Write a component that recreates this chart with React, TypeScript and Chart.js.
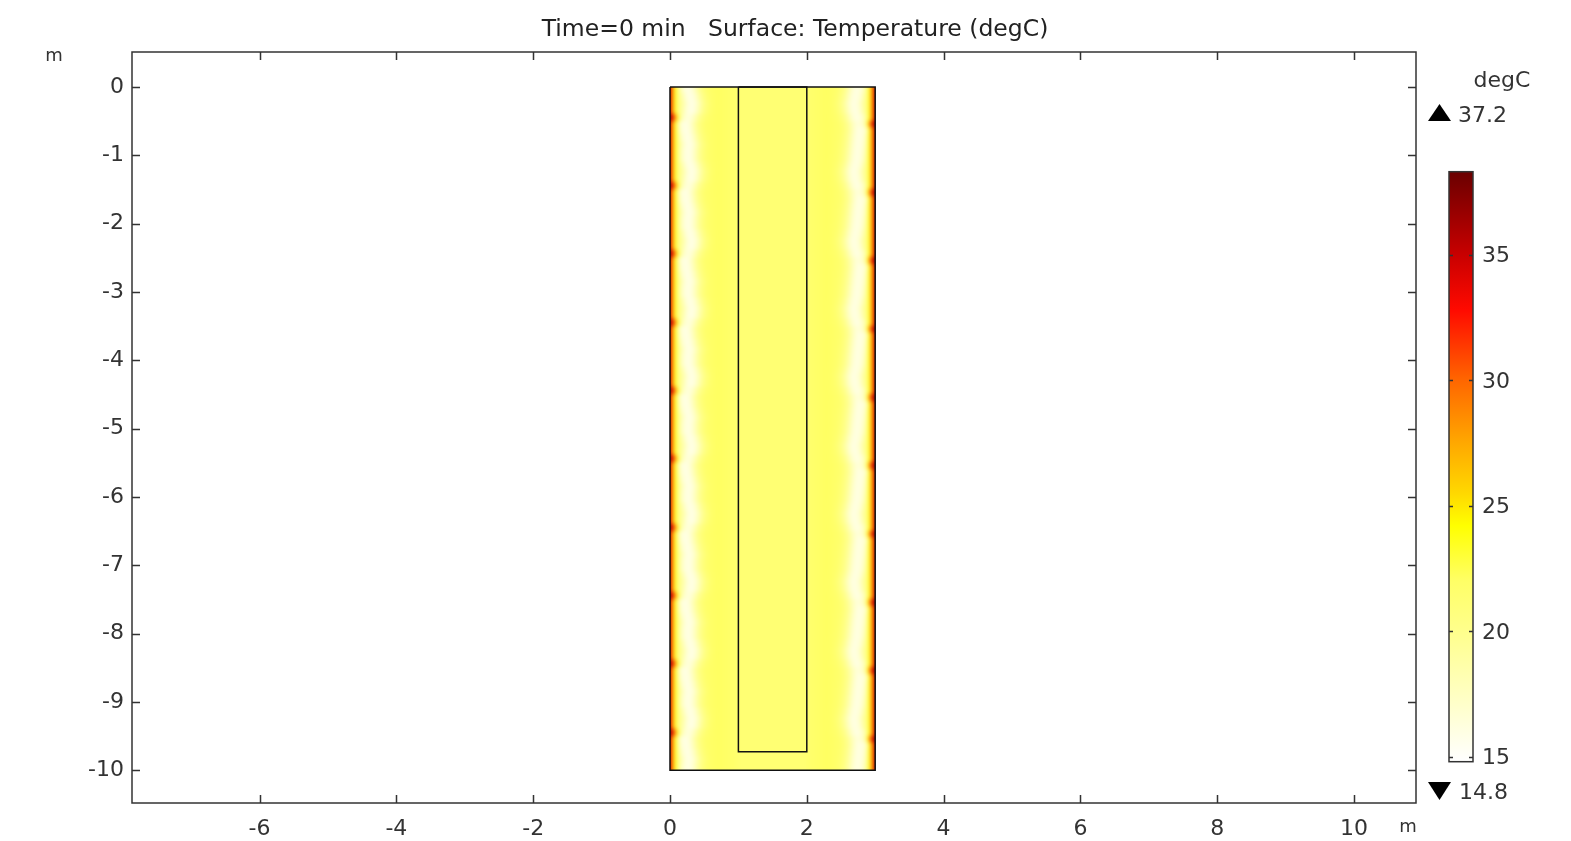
import React, { useEffect, useRef } from "react";
import { Chart, registerables } from "chart.js";
Chart.register(...registerables);

// ---------- data ----------
const titleText = "Time=0 min   Surface: Temperature (degC)";
const axisUnit = "m";
const colorUnit = "degC";
const xTicks = [-6, -4, -2, 0, 2, 4, 6, 8, 10];
const yTicks = [0, -1, -2, -3, -4, -5, -6, -7, -8, -9, -10];
const xRange = [-7.865, 10.906];
const yRange = [-10.479, 0.512];

// geometry outlines (m)
const outerX = [0, 3, 3, 0, 0];
const outerY = [0, 0, -10, -10, 0];
const innerX = [1, 2, 2, 1, 1];
const innerY = [0, 0, -9.73, -9.73, 0];

// temperature field (degC) read across the section
const leftX = [0, 0.02, 0.04, 0.06, 0.085, 0.11, 0.15, 0.2, 0.26, 0.32, 0.38, 0.45, 0.55, 0.7, 1.0];
const leftT = [35, 31, 27.5, 24.8, 22.8, 21, 18.5, 16.6, 15.9, 16.4, 18.2, 20.3, 21.8, 22.1, 21.6];
const leftNotchT = [37, 35.5, 33, 30, 27, 23, 19.5, 17.2, 16.3, 16.8, 18.6, 20.5, 21.8, 22.1, 21.6];
const rightD = [0, 0.02, 0.04, 0.06, 0.085, 0.11, 0.15, 0.2, 0.26, 0.32, 0.38, 0.45, 0.55, 0.7, 1.0];
const rightT = [36, 32, 28.5, 25.5, 23.2, 21.2, 18.5, 16.6, 16, 16.4, 18.2, 20.2, 21.7, 22.1, 21.6];
const rightNotchT = [37.5, 36, 33.5, 30.5, 27.5, 23.5, 19.6, 17.2, 16.4, 16.9, 18.7, 20.5, 21.8, 22.1, 21.6];
const innerT = 21.3;
const rowStep = 0.1; // m
const leftShift = [0.0, 0.03, 0.05, 0.04, 0.0, -0.04, -0.03, -0.01, 0.01, 0.0];
const rightShift = [0.0, -0.02, -0.04, -0.03, 0.0, 0.02, 0.04, 0.03, 0.02, 0.01];
const leftNotchRows = [0, 0, 0, 0, 1, 0, 0, 0, 0, 0];
const rightNotchRows = [0, 0, 0, 0, 0, 1, 0, 0, 0, 0];

// colour scale
const cbarMin = 14.8;
const cbarMax = 38.3;
const cbarTicks = [15, 20, 25, 30, 35];
const dataMaxLabel = "37.2";
const dataMinLabel = "14.8";
const cmapT = [14.8, 17, 20, 22, 24.2, 25.5, 27.5, 30, 32.8, 35, 38.3];
const cmapC = ["#ffffff", "#ffffcc", "#ffff8c", "#ffff66", "#ffff00", "#ffd800", "#ffa800", "#ff6600", "#ff0a00", "#c80000", "#6a0000"];

// ---------- helpers ----------
const FONT = '"DejaVu Sans", "Liberation Sans", sans-serif';
function hex(c: string) {
  return [parseInt(c.slice(1, 3), 16), parseInt(c.slice(3, 5), 16), parseInt(c.slice(5, 7), 16)];
}
function colorOf(t: number) {
  if (t <= cmapT[0]) return cmapC[0];
  for (let i = 1; i < cmapT.length; i++) {
    if (t <= cmapT[i]) {
      const f = (t - cmapT[i - 1]) / (cmapT[i] - cmapT[i - 1]);
      const a = hex(cmapC[i - 1]);
      const b = hex(cmapC[i]);
      const r = a.map((v, j) => Math.round(v + (b[j] - v) * f));
      return `rgb(${r[0]},${r[1]},${r[2]})`;
    }
  }
  return cmapC[cmapC.length - 1];
}
const clamp01 = (v: number) => Math.max(0, Math.min(1, v));

const fieldPlugin = {
  id: "field",
  beforeDatasetsDraw(chart: any) {
    const { ctx } = chart;
    const xs = chart.scales.x;
    const ys = chart.scales.y;
    const X = (v: number) => xs.getPixelForValue(v);
    const Y = (v: number) => ys.getPixelForValue(v);
    const x0 = X(0);
    const x3 = X(3);
    const W = x3 - x0;
    const off = document.createElement("canvas");
    off.width = chart.canvas.width;
    off.height = chart.canvas.height;
    const oc = off.getContext("2d") as CanvasRenderingContext2D;
    const nRows = Math.round(10 / rowStep);
    for (let k = 0; k < nRows; k++) {
      const p = k % leftShift.length;
      const g = oc.createLinearGradient(x0, 0, x3, 0);
      const lT = leftNotchRows[p] ? leftNotchT : leftT;
      leftX.forEach((d, i) => {
        const s = i >= 6 && i <= 12 ? leftShift[p] : 0;
        g.addColorStop(clamp01((X(d + s) - x0) / W), colorOf(lT[i]));
      });
      g.addColorStop(clamp01((X(1) - x0) / W), colorOf(innerT));
      g.addColorStop(clamp01((X(2) - x0) / W), colorOf(innerT));
      const rT = rightNotchRows[p] ? rightNotchT : rightT;
      for (let i = rightD.length - 1; i >= 0; i--) {
        const s = i >= 6 && i <= 12 ? rightShift[p] : 0;
        g.addColorStop(clamp01((X(3 - rightD[i] + s) - x0) / W), colorOf(rT[i]));
      }
      oc.fillStyle = g;
      const top = Math.floor(Y(-k * rowStep + (k === 0 ? 0.3 : 0)));
      const bot = Math.ceil(Y(-(k + 1) * rowStep - (k === nRows - 1 ? 0.3 : 0)));
      oc.fillRect(X(-0.2), top, X(3.2) - X(-0.2), bot - top);
    }
    ctx.save();
    ctx.beginPath();
    ctx.rect(x0, Y(0), W, Y(-10) - Y(0));
    ctx.clip();
    ctx.filter = "blur(2px)";
    ctx.drawImage(off, 0, 0);
    ctx.restore();
  },
};

const decorPlugin = {
  id: "decor",
  afterDraw(chart: any) {
    const { ctx, chartArea: a } = chart;
    const xs = chart.scales.x;
    const ys = chart.scales.y;
    ctx.save();
    // frame
    ctx.strokeStyle = "#333";
    ctx.lineWidth = 1.5;
    ctx.strokeRect(a.left, a.top, a.right - a.left, a.bottom - a.top);
    // inward ticks
    ctx.beginPath();
    xTicks.forEach((v) => {
      const px = Math.round(xs.getPixelForValue(v)) + 0.5;
      ctx.moveTo(px, a.bottom);
      ctx.lineTo(px, a.bottom - 8);
      ctx.moveTo(px, a.top);
      ctx.lineTo(px, a.top + 8);
    });
    yTicks.forEach((v) => {
      const py = Math.round(ys.getPixelForValue(v)) + 0.5;
      ctx.moveTo(a.left, py);
      ctx.lineTo(a.left + 8, py);
      ctx.moveTo(a.right, py);
      ctx.lineTo(a.right - 8, py);
    });
    ctx.stroke();

    // title
    ctx.fillStyle = "#222";
    ctx.font = `23.5px ${FONT}`;
    ctx.textAlign = "center";
    ctx.textBaseline = "middle";
    ctx.fillText(titleText, 795, 30);

    // unit labels
    ctx.fillStyle = "#333";
    ctx.font = `18px ${FONT}`;
    ctx.fillText(axisUnit, 54, 56);
    ctx.fillText(axisUnit, 1408, 827);

    // colour bar
    const cbL = 1449, cbR = 1473, cbT = 171.7, cbB = 761.7;
    const vy = (v: number) => cbB - ((v - cbarMin) / (cbarMax - cbarMin)) * (cbB - cbT);
    const g = ctx.createLinearGradient(0, cbB, 0, cbT);
    cmapT.forEach((t, i) => g.addColorStop(clamp01((t - cbarMin) / (cbarMax - cbarMin)), cmapC[i]));
    ctx.fillStyle = g;
    ctx.fillRect(cbL, cbT, cbR - cbL, cbB - cbT);
    ctx.strokeStyle = "#333";
    ctx.lineWidth = 1.5;
    ctx.strokeRect(cbL, cbT, cbR - cbL, cbB - cbT);
    ctx.beginPath();
    cbarTicks.forEach((v) => {
      const py = Math.round(vy(v)) + 0.5;
      ctx.moveTo(cbL, py);
      ctx.lineTo(cbL + 4, py);
      ctx.moveTo(cbR, py);
      ctx.lineTo(cbR - 4, py);
    });
    ctx.stroke();
    ctx.fillStyle = "#333";
    ctx.font = `22px ${FONT}`;
    ctx.textAlign = "left";
    cbarTicks.forEach((v) => ctx.fillText(String(v), 1482, vy(v) + 2));
    ctx.textAlign = "center";
    ctx.fillText(colorUnit, 1502, 81);
    ctx.textAlign = "left";
    ctx.fillText(dataMaxLabel, 1458, 116);
    ctx.fillText(dataMinLabel, 1459, 793);
    // triangles
    ctx.fillStyle = "#000";
    ctx.beginPath();
    ctx.moveTo(1428, 121);
    ctx.lineTo(1451, 121);
    ctx.lineTo(1439.5, 104);
    ctx.closePath();
    ctx.fill();
    ctx.beginPath();
    ctx.moveTo(1428, 782);
    ctx.lineTo(1451, 782);
    ctx.lineTo(1439.5, 800);
    ctx.closePath();
    ctx.fill();
    ctx.restore();
  },
};

export default function App() {
  const ref = useRef<HTMLCanvasElement | null>(null);
  useEffect(() => {
    if (!ref.current) return;
    const tickFont = { family: FONT, size: 22 };
    const chart = new Chart(ref.current, {
      type: "scatter",
      data: {
        datasets: [
          {
            data: outerX.map((v, i) => ({ x: v, y: outerY[i] })),
            showLine: true,
            borderColor: "#111",
            borderWidth: 1.5,
            pointRadius: 0,
            fill: false,
          },
          {
            data: innerX.map((v, i) => ({ x: v, y: innerY[i] })),
            showLine: true,
            borderColor: "#111",
            borderWidth: 1.5,
            pointRadius: 0,
            fill: false,
          },
        ],
      },
      options: {
        responsive: false,
        animation: false,
        events: [],
        layout: { padding: { top: 52, right: 155, left: 0, bottom: 0 } },
        plugins: { legend: { display: false }, tooltip: { enabled: false }, title: { display: false } },
        scales: {
          x: {
            type: "linear",
            min: xRange[0],
            max: xRange[1],
            afterBuildTicks: (s: any) => {
              s.ticks = xTicks.map((v) => ({ value: v }));
            },
            afterFit: (s: any) => {
              s.height = 38;
            },
            grid: { display: false, drawTicks: false },
            border: { display: false },
            ticks: {
              font: tickFont,
              color: "#333",
              padding: 13,
              autoSkip: false,
              maxRotation: 0,
              callback: (v: any) => String(v),
            },
          },
          y: {
            type: "linear",
            min: yRange[0],
            max: yRange[1],
            afterBuildTicks: (s: any) => {
              s.ticks = yTicks.map((v) => ({ value: v }));
            },
            afterFit: (s: any) => {
              s.width = 132;
            },
            grid: { display: false, drawTicks: false },
            border: { display: false },
            ticks: {
              font: tickFont,
              color: "#333",
              padding: 8,
              autoSkip: false,
              callback: (v: any) => String(v),
            },
          },
        },
      },
      plugins: [fieldPlugin, decorPlugin],
    } as any);
    return () => chart.destroy();
  }, []);
  return (
    <div style={{ position: "fixed", left: 0, top: 0, width: 1571, height: 841, background: "#fff" }}>
      <canvas ref={ref} width={1571} height={841} style={{ display: "block" }} />
    </div>
  );
}
